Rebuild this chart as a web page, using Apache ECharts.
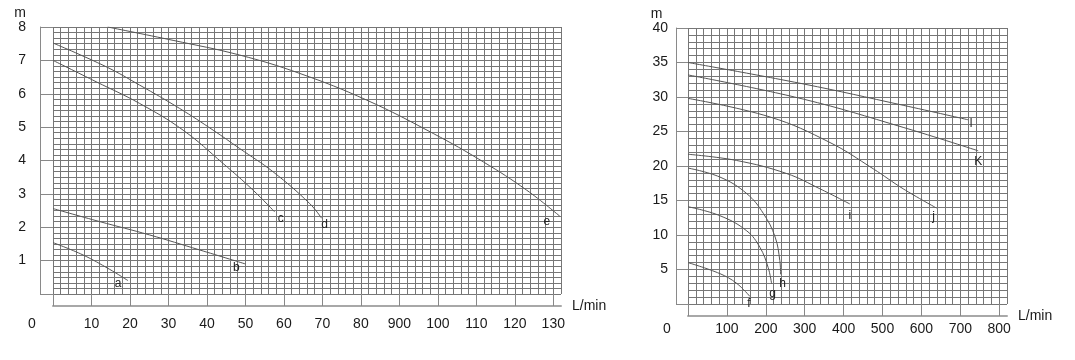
<!DOCTYPE html>
<html>
<head>
<meta charset="utf-8">
<script src="https://cdn.jsdelivr.net/npm/echarts@6/dist/echarts.min.js"></script>
<style>
html,body{margin:0;padding:0;background:#fff;}
#c{width:1075px;height:360px;}
</style>
</head>
<body>
<div id="c"></div>
<script>
// ---------- data ----------
var leftXTickLabels = ['0','10','20','30','40','50','60','70','80','900','100','110','120','130'];
var leftYTickLabels = ['','1','2','3','4','5','6','7','8'];
var rightXTickLabels = ['0','100','200','300','400','500','600','700','800'];
var rightYTickLabels = ['','5','10','15','20','25','30','35','40'];

var curveA = [[0,1.54],[7.8,1.17],[14.7,0.74],[19.5,0.40]];
var curveB = [[0,2.56],[12.1,2.17],[25.1,1.77],[38.1,1.32],[50,0.90]];
var curveC = [[0,7.0],[11.2,6.36],[22.5,5.71],[33.8,4.91],[44.2,3.91],[52.0,3.11],[57.6,2.46]];
var curveD = [[0,7.52],[13.8,6.81],[22.5,6.26],[32.9,5.56],[41.6,4.91],[48.5,4.36],[57.2,3.66],[66.7,2.71],[69.8,2.27]];
var curveE = [[14.2,8.0],[31.2,7.6],[48.5,7.16],[64.1,6.61],[81.5,5.81],[98.8,4.81],[111.8,3.96],[123.1,3.11],[131.7,2.33]];

var curveF = [[0,6.0],[82,4.4],[125,3.0],[159,1.1]];
var curveG = [[0,14.1],[82,12.8],[151,10.6],[185,8.2],[206,5.3],[215,2.9]];
var curveH = [[0,19.7],[82,18.4],[151,16.0],[194,13.1],[224,9.7],[236,6.3],[238,4.3]];
var curveI = [[0,21.7],[125,20.8],[254,18.9],[339,16.7],[416,14.5]];
var curveJ = [[0,29.8],[211,27.1],[365,23.4],[476,19.6],[553,16.7],[639,13.9]];
var curveK = [[0,33.2],[296,29.7],[553,25.6],[746,22.2]];
var curveL = [[0,35.0],[296,31.9],[553,28.8],[720,26.7]];

var leftNames = ['a','b','c','d','e'];
var rightNames = ['f','g','h','i','j','K','l'];
var leftCurves = [curveA, curveB, curveC, curveD, curveE];
var rightCurves = [curveF, curveG, curveH, curveI, curveJ, curveK, curveL];

// ---------- style ----------
var FONT = 'Liberation Sans, Arial, sans-serif';
var GRIDC = '#767676';
var leftLabelOffsets = [[-10,3],[-9,4],[6,7],[3,6],[-13,5]];
var rightLabelOffsets = [[-1,7],[1,10],[2,9],[0,12],[-3,9],[0,11],[3,4]];

function mkSeries(names, curves, offsets, xi, yi){
  return curves.map(function(d,i){
    return {
      type:'line', name:names[i], data:d, xAxisIndex:xi, yAxisIndex:yi,
      showSymbol:false, symbol:'none', smooth:0.4,
      lineStyle:{color:'#555', width:1}, itemStyle:{color:'#555'},
      silent:true,
      endLabel:{show:true, formatter:'{a}', color:'#222', fontSize:12, fontFamily:FONT,
        align:'center', verticalAlign:'middle', distance:0, offset:offsets[i]}
    };
  });
}

function xMain(grid, max, interval, labels, offset, margin, name, nameGap, namePad){
  return {
    type:'value', gridIndex:grid, min:0, max:max, interval:interval, offset:offset,
    position:'bottom',
    axisLine:{show:true, onZero:false, lineStyle:{color:'#a8a8a8', width:2}},
    axisTick:{show:true, inside:true, length:offset, lineStyle:{color:'#888', width:1}},
    axisLabel:{show:true, margin:margin, color:'#1a1a1a', fontSize:14, fontFamily:FONT,
      showMaxLabel:false,
      formatter:function(v){
        var k = Math.round(v/interval);
        if (Math.abs(v - k*interval) > 1e-6 || k >= labels.length) return '';
        if (k === 0) return '{z|' + labels[0] + '}';
        return labels[k];
      },
      rich:{z:{padding:[0,42,0,0], fontSize:14, fontFamily:FONT, color:'#1a1a1a'}}
    },
    splitLine:{show:false},
    name:name, nameLocation:'end', nameGap:nameGap,
    nameTextStyle:{color:'#1a1a1a', fontSize:14, fontFamily:FONT, align:'left', verticalAlign:'middle', padding:[namePad,0,0,0]}
  };
}
function xGrid(grid, max, interval){
  return {
    type:'value', gridIndex:grid, min:0, max:max, interval:interval, position:'top',
    axisLine:{show:false}, axisTick:{show:false}, axisLabel:{show:false},
    splitLine:{show:true, lineStyle:{color:GRIDC, width:1}}
  };
}
function yMain(grid, max, interval, labels, offset, margin, minorSplit, nameGap, namePad){
  return {
    type:'value', gridIndex:grid, min:0, max:max, interval:interval, offset:offset,
    axisLine:{show:true, onZero:false, lineStyle:{color:'#8a8a8a', width:1}},
    axisTick:{show:true, inside:true, length:offset, lineStyle:{color:'#888', width:1}},
    axisLabel:{show:true, margin:margin, color:'#1a1a1a', fontSize:14, fontFamily:FONT,
      formatter:function(v){ var k=Math.round(v/interval); return labels[k] || ''; }},
    splitLine:{show:true, lineStyle:{color:GRIDC, width:1}},
    minorTick:{show:false, splitNumber:minorSplit},
    minorSplitLine:{show:true, lineStyle:{color:GRIDC, width:1}},
    name:'m', nameLocation:'end', nameGap:nameGap,
    nameTextStyle:{color:'#1a1a1a', fontSize:14, fontFamily:FONT, align:'center', verticalAlign:'bottom', padding:[0,namePad,0,0]}
  };
}

var option = {
  animation:false,
  backgroundColor:'#fff',
  grid:[
    {left:53, top:27, width:508, height:267},
    {left:688, top:28, width:319, height:276}
  ],
  xAxis:[
    xMain(0, 132, 10, leftXTickLabels, 12, 11, 'L/min', 11, 34),
    xGrid(0, 132, 2),
    xMain(1, 820, 100, rightXTickLabels, 12, 6, 'L/min', 11, 22),
    xGrid(1, 820, 20)
  ],
  yAxis:[
    yMain(0, 8, 1, leftYTickLabels, 13, 14, 6, 1, 40),
    yMain(1, 40, 5, rightYTickLabels, 12, 8, 5, 5, 39)
  ],
  series: mkSeries(leftNames, leftCurves, leftLabelOffsets, 0, 0)
    .concat(mkSeries(rightNames, rightCurves, rightLabelOffsets, 2, 1))
};

var chart = echarts.init(document.getElementById('c'), null, {renderer:'canvas'});
chart.setOption(option);
</script>
</body>
</html>
